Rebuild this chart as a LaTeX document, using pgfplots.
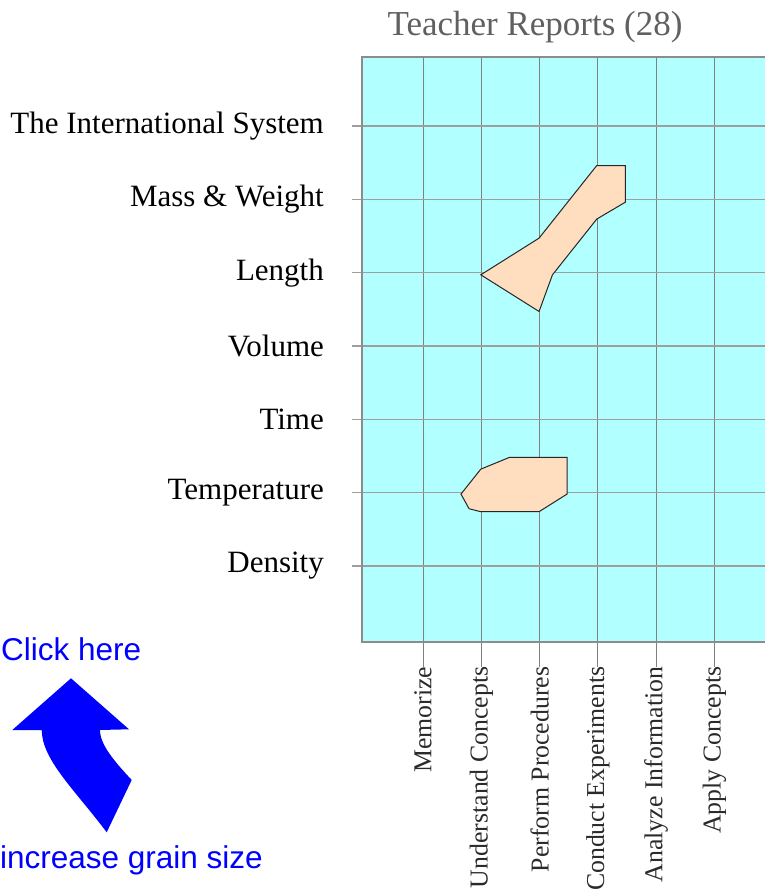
\documentclass[border=0pt]{standalone}
\usepackage{pgfplots}
\pgfplotsset{compat=1.18}
\usepackage{fontspec}
\setmainfont{Liberation Serif}
\newfontfamily\arialfont{Liberation Sans}
\definecolor{cyanbg}{HTML}{B2FFFF}
\definecolor{peach}{HTML}{FFDDBF}
\definecolor{gridv}{HTML}{808080}
\definecolor{gridh}{HTML}{9E9E9E}
\definecolor{bordercol}{HTML}{8C8C8C}
\definecolor{titlegray}{HTML}{606060}
\definecolor{xlab}{HTML}{2A2A2A}
\begin{document}
\begin{tikzpicture}
\begin{axis}[
  at={(362.3bp,-641.7bp)}, anchor=south west,
  scale only axis, width=408.7bp, height=584.7bp,
  xmin=-0.043, xmax=6.97, ymin=-0.033, ymax=7.94,
  axis background/.style={fill=cyanbg},
  xtick={1,2,3,4,5,6}, ytick={1,2,3,4,5,6,7},
  xticklabels={Memorize, Understand Concepts, Perform Procedures, Conduct Experiments, Analyze Information, Apply Concepts},
  yticklabels={Density, Temperature, Time, Volume, Length, Mass \& Weight, The International System},
  grid=major,
  x grid style={color=gridv, line width=1bp},
  y grid style={color=gridh, line width=1.5bp},
  tick align=outside,
  xtick pos=left, ytick pos=left,
  xtick style={color=gridv, line width=1bp, /pgfplots/major tick length=25bp},
  ytick style={color=gridh, line width=1.5bp, /pgfplots/major tick length=10bp},
  axis line style={draw=bordercol, line width=2bp},
  xticklabel shift=19.5bp,
  yticklabel shift=34bp,
  xticklabel style={rotate=90, anchor=east, inner sep=1bp, text=xlab, font=\fontsize{25.8bp}{30bp}\selectfont},
  yticklabel style={anchor=east, inner sep=0bp, font=\fontsize{31bp}{36bp}\selectfont},
]
\addplot[fill=peach, draw=black!85, line width=1bp] coordinates {
  (1.99,4.97) (2.99,5.47) (3.98,6.46) (4.47,6.46) (4.47,5.96) (3.98,5.73) (3.22,4.97) (2.99,4.47)
} -- cycle;
\addplot[fill=peach, draw=black!85, line width=1bp] coordinates {
  (1.99,2.32) (2.48,2.48) (3.47,2.48) (3.47,1.98) (2.99,1.74) (1.99,1.74) (1.79,1.78) (1.65,1.98)
} -- cycle;
\end{axis}
\node[anchor=base, inner sep=0pt, text=titlegray, font=\fontsize{35bp}{40bp}\selectfont] at (535bp,-35.7bp) {Teacher Reports (28)};
\begin{scope}[x=1bp,y=-1bp]
\node[anchor=base west, inner sep=0pt, text=blue, font=\arialfont\fontsize{31.5bp}{36bp}\selectfont] at (1,660) {Click here};
\node[anchor=base west, inner sep=0pt, text=blue, font=\arialfont\fontsize{31.5bp}{36bp}\selectfont] at (0,868) {increase grain size};
\fill[blue] (71,678.3) -- (129,729.3) -- (100,730) .. controls (100,745) and (115,762) .. (131.7,780)
  -- (106.7,832.3) .. controls (75,790) and (42,760) .. (41.7,730) -- (12.3,730) -- cycle;
\end{scope}
\pgfresetboundingbox
\useasboundingbox (0bp,0bp) rectangle (765bp,-890bp);
\end{tikzpicture}
\end{document}
